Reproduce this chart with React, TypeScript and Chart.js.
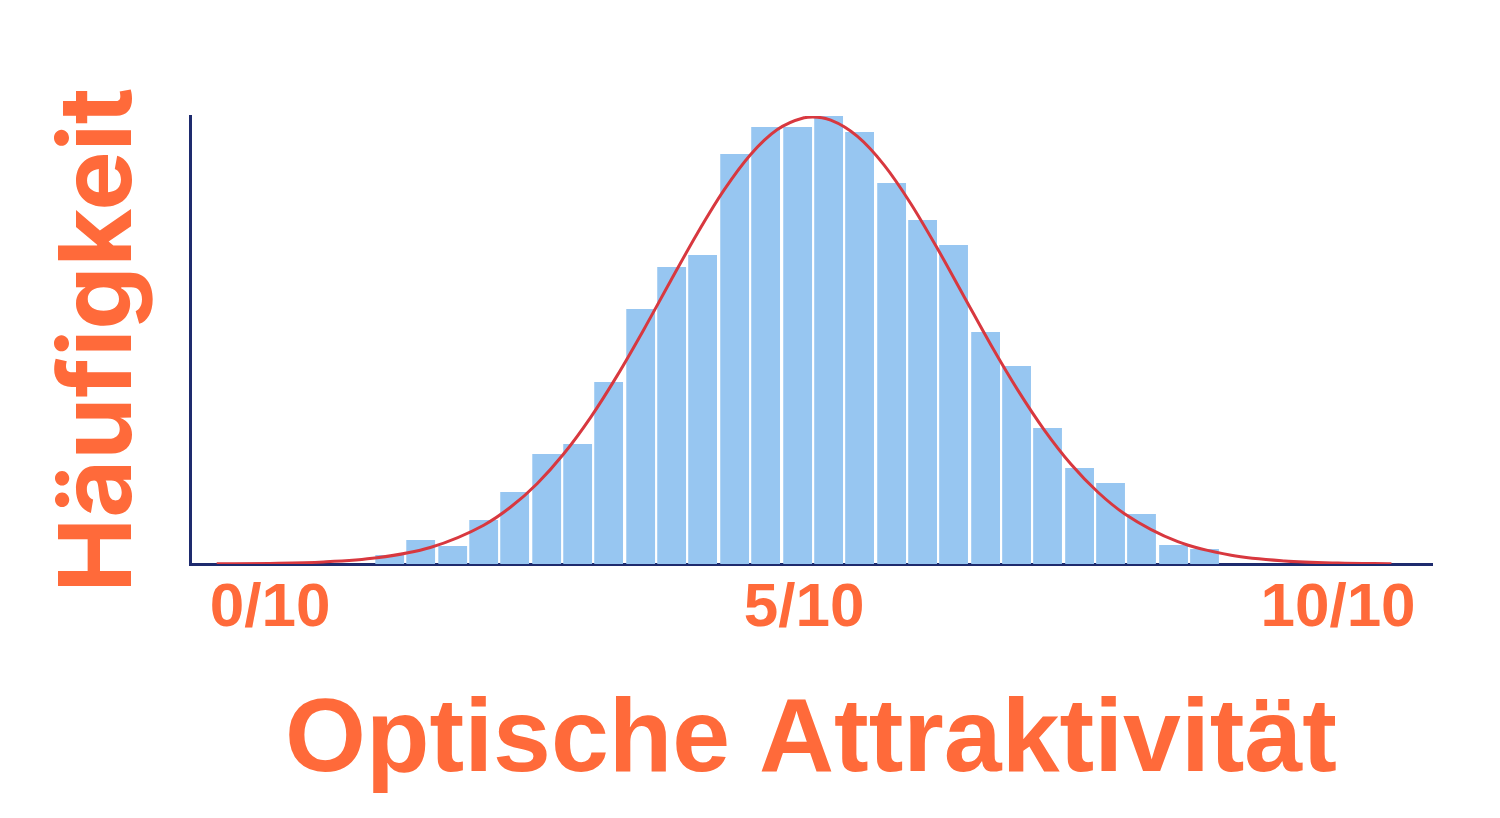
import React, { useEffect, useRef } from 'react';
import { Chart, registerables } from 'chart.js';

Chart.register(...registerables);

// histogram bins (centre of each bin on the 0..10 attractiveness scale)
const binCenters = [
  1.12, 1.41, 1.71, 2.0, 2.29, 2.59, 2.88, 3.17, 3.47, 3.76, 4.05, 4.35, 4.64, 4.94,
  5.23, 5.52, 5.82, 6.11, 6.4, 6.7, 6.99, 7.28, 7.58, 7.87, 8.16, 8.46, 8.75,
];
const binCounts = [
  9, 24, 18, 44, 72, 110, 120, 182, 255, 297, 309, 410, 437, 437,
  448, 432, 381, 344, 319, 232, 198, 136, 96, 81, 50, 19, 15,
];

// fitted curve
const curveX = [
  -0.5, 0, 0.5, 1, 1.5, 2, 2.25, 2.5, 2.75, 3, 3.25, 3.5, 3.75, 4, 4.25, 4.5, 4.75, 5,
  5.08, 5.25, 5.5, 5.75, 6, 6.25, 6.5, 6.75, 7, 7.25, 7.5, 7.75, 8, 8.5, 9, 9.5, 10, 10.5,
];
const curveY = [
  0.2, 0.6, 2, 6.2, 16.5, 38.8, 56.7, 80.3, 110.2, 146.4, 188.4, 234.6, 283, 330.5, 373.8, 409.5, 434.4, 446.2,
  447, 443.8, 427.6, 398.9, 360.3, 315.2, 267.1, 219, 174.1, 133.9, 99.7, 72, 50.3, 22.3, 8.7, 3, 0.9, 0.25,
];

const tickValues = [0, 5, 10];
const tickLabels = ['0/10', '5/10', '10/10'];

const ORANGE = '#FF6A3A';
const NAVY = '#1E2B6E';

const App: React.FC = () => {
  const canvasRef = useRef<HTMLCanvasElement>(null);

  useEffect(() => {
    document.body.style.margin = '0';
    if (!canvasRef.current) return;

    const chart = new Chart(canvasRef.current, {
      type: 'bar',
      data: {
        datasets: [
          {
            type: 'line',
            data: curveX.map((x, i) => ({ x, y: curveY[i] })),
            borderColor: '#D8383F',
            borderWidth: 3,
            pointRadius: 0,
            cubicInterpolationMode: 'monotone',
            order: 0,
          } as any,
          {
            type: 'bar',
            data: binCenters.map((x, i) => ({ x, y: binCounts[i] })),
            backgroundColor: '#97C6F1',
            barPercentage: 0.93,
            categoryPercentage: 1,
            order: 1,
          },
        ],
      },
      options: {
        animation: false,
        responsive: true,
        maintainAspectRatio: false,
        devicePixelRatio: 1,
        layout: { padding: { top: 116, right: 68, left: 0, bottom: 0 } },
        plugins: { legend: { display: false }, tooltip: { enabled: false } },
        scales: {
          x: {
            type: 'linear',
            min: -0.75,
            max: 10.88,
            offset: false,
            bounds: 'data',
            grid: { display: false, offset: false },
            border: { display: true, color: NAVY, width: 3 },
            afterBuildTicks: (scale: any) => {
              scale.ticks = tickValues.map((v) => ({ value: v }));
            },
            afterFit: (scale: any) => {
              scale.height = 254;
            },
            ticks: {
              color: ORANGE,
              padding: 0,
              maxRotation: 0,
              autoSkip: false,
              font: { family: '"Liberation Sans", Arial, sans-serif', size: 62, weight: 'bold' },
              callback: (value: any) => tickLabels[tickValues.indexOf(Number(value))] ?? '',
            },
            title: {
              display: true,
              text: 'Optische Attraktivität',
              color: ORANGE,
              padding: { top: 0, bottom: 13 },
              font: { family: '"Liberation Sans", Arial, sans-serif', size: 104, weight: 'bold', lineHeight: 1.2 },
            },
          },
          y: {
            min: 0,
            max: 448,
            grid: { display: false },
            border: { display: true, color: NAVY, width: 3 },
            ticks: { display: false },
            afterFit: (scale: any) => {
              scale.width = 190;
            },
            title: {
              display: true,
              text: 'Häufigkeit',
              color: ORANGE,
              padding: { top: 51, bottom: 0 },
              font: { family: 'Inter, "Open Sans", sans-serif', size: 100, weight: 'bold', lineHeight: 1 },
            },
          },
        },
      },
    });

    return () => {
      chart.destroy();
    };
  }, []);

  return (
    <div style={{ width: 1500, height: 818, position: 'relative', background: '#fff' }}>
      <canvas ref={canvasRef}></canvas>
    </div>
  );
};

export default App;
